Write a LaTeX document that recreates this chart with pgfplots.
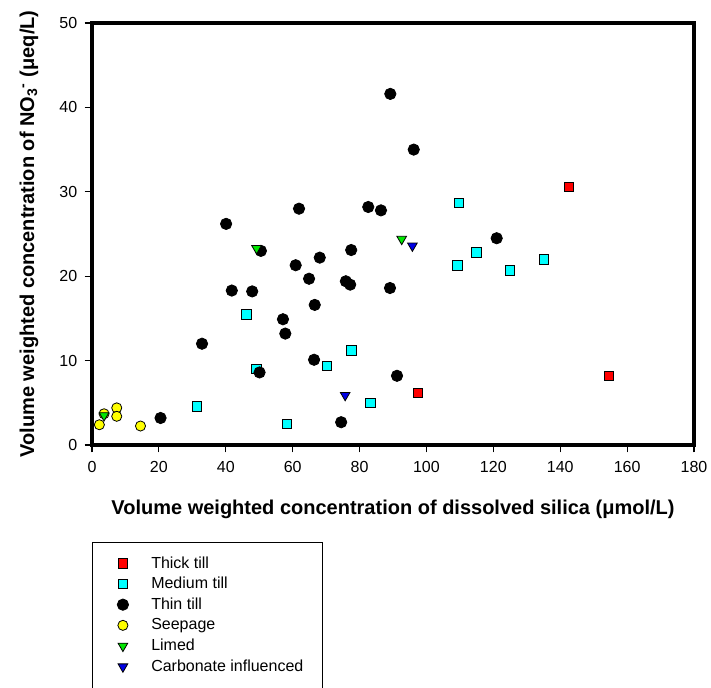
\documentclass[border=0pt]{standalone}
\usepackage{fontspec}
\setmainfont{Liberation Sans}
\usepackage{pgfplots}
\pgfplotsset{compat=1.18}

\definecolor{thickc}{RGB}{255,0,0}
\definecolor{mediumc}{RGB}{0,255,255}
\definecolor{seepc}{RGB}{255,255,0}
\definecolor{limedc}{RGB}{0,230,0}
\definecolor{carbc}{RGB}{0,0,230}

\begin{document}
\begin{tikzpicture}
% page = 711 x 688 px at 0.75pt per px
\path[use as bounding box] (0pt,0pt) rectangle (533.25pt,-516pt);
\begin{axis}[
    at={(69pt,-333.75pt)}, anchor=south west,
    scale only axis, width=451.5pt, height=316.5pt,
    xmin=0, xmax=180, ymin=0, ymax=50,
    xtick={0,20,...,180}, ytick={0,10,...,50},
    tick pos=left, tick align=outside,
    major tick length=5.5pt,
    axis line style={line width=2.5pt},
    tick style={black, line width=0.8pt},
    ticklabel style={font=\fontsize{12pt}{14pt}\selectfont},
    xticklabel style={yshift=-3pt},
    yticklabel style={xshift=-2pt},
    /pgf/number format/assume math mode=true,
    clip=false,
    xlabel={Volume weighted concentration of dissolved silica (μmol/L)},
    ylabel={Volume weighted concentration of NO\textsubscript{3}\rlap{\textsuperscript{-}}\ \ (μeq/L)},
    label style={font=\fontsize{15pt}{18pt}\selectfont\bfseries},
    xlabel style={at={(axis description cs:0.5,-0.1635)}, anchor=base},
    ylabel style={at={(axis description cs:-0.0963,0.5)}, anchor=base},
    legend cell align=left,
    legend image code/.code={\draw[#1] plot coordinates {(0pt,0pt)};},
    legend style={at={(axis description cs:0.0415,-0.2553)}, anchor=north west,
        draw=none, fill=none, inner sep=0pt, row sep=0pt, column sep=17pt,
        font=\fontsize{12pt}{14pt}\selectfont,
        nodes={inner sep=0pt, minimum height=15.5pt}},
]
\addplot[only marks, mark=square*, mark size=3.55pt, draw=black, fill=thickc, line width=0.6pt]
  coordinates {(142.6,30.6) (97.4,6.2) (154.5,8.2)};
\addlegendentry{Thick till}
\addplot[only marks, mark=square*, mark size=3.55pt, draw=black, fill=mediumc, line width=0.6pt]
  coordinates {(31.4,4.6) (46.1,15.5) (49.2,9.0) (58.3,2.5) (70.3,9.4) (77.5,11.2)
  (83.3,5.0) (109.3,21.3) (109.7,28.7) (115.0,22.8) (125.0,20.7) (135.1,22.0)};
\addlegendentry{Medium till}
\addplot[only marks, mark=*, mark size=4.25pt, draw=black, fill=black, line width=0.6pt]
  coordinates {(20.5,3.2) (32.9,12.0) (40.1,26.2) (41.8,18.3) (47.9,18.2) (50.1,8.6)
  (50.5,23.0) (57.1,14.9) (57.8,13.2) (60.9,21.3) (61.9,28.0) (64.9,19.7) (66.4,10.1)
  (66.6,16.6) (68.1,22.2) (74.5,2.7) (75.9,19.4) (77.2,19.0) (77.5,23.1) (82.6,28.2)
  (86.4,27.8) (89.2,41.6) (89.1,18.6) (91.2,8.2) (96.2,35.0) (121.0,24.5)};
\addlegendentry{Thin till}
\addplot[only marks, mark=*, mark size=3.8pt, draw=black, fill=seepc, line width=0.6pt]
  coordinates {(2.2,2.4) (3.6,3.7) (7.4,4.4) (7.4,3.4) (14.5,2.25)};
\addlegendentry{Seepage}
\addplot[only marks, mark=triangle*, mark size=4.2pt, mark options={rotate=180},
  draw=black, fill=limedc, line width=0.6pt]
  coordinates {(3.6,3.5) (49.2,23.3) (92.6,24.4)};
\addlegendentry{Limed}
\addplot[only marks, mark=triangle*, mark size=4.2pt, mark options={rotate=180},
  draw=black, fill=carbc, line width=0.6pt]
  coordinates {(75.7,5.9) (95.8,23.6)};
\addlegendentry{Carbonate influenced}
\end{axis}
\draw[line width=0.75pt] (69pt,-406.5pt) rectangle (241.5pt,-530pt);
\end{tikzpicture}
\end{document}
